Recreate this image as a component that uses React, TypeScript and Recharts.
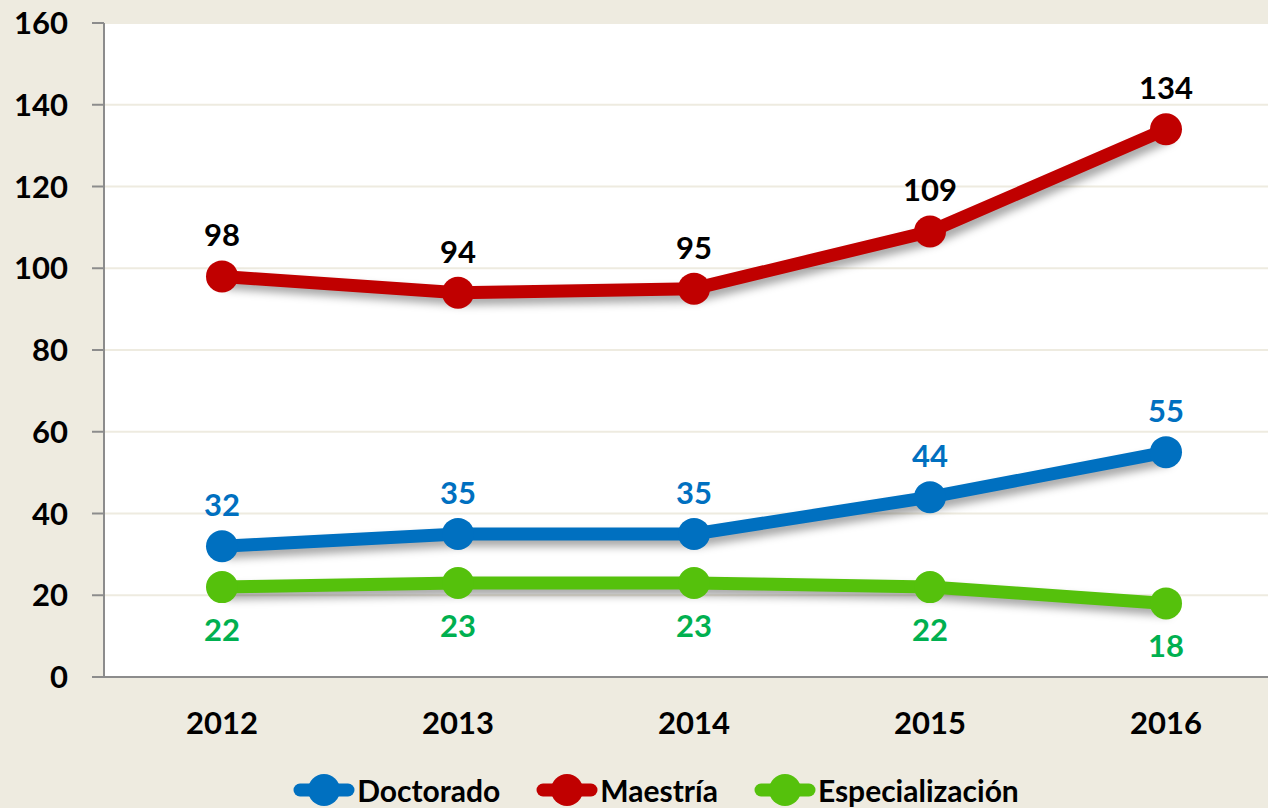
import { LineChart, Line, XAxis, YAxis, CartesianGrid, Legend, LabelList } from "recharts";

// values
const years = ["2012", "2013", "2014", "2015", "2016"];
const doctorado = [32, 35, 35, 44, 55];
const maestria = [98, 94, 95, 109, 134];
const especializacion = [22, 23, 23, 22, 18];
const yTicks = [0, 20, 40, 60, 80, 100, 120, 140, 160];

const data = years.map((year, i) => ({
    year,
    doctorado: doctorado[i],
    maestria: maestria[i],
    especializacion: especializacion[i],
}));

const BLUE = "#0070C0";
const RED = "#C00000";
const GREEN = "#55C10C";
const GREEN_LABEL = "#00B050";
const BG = "#EEEBE0";
const FONT = "Lato, 'Open Sans', sans-serif";

const legendItems = [
    { name: "Doctorado", color: BLUE },
    { name: "Maestría", color: RED },
    { name: "Especialización", color: GREEN },
];

function LegendContent() {
    return (
        <div
            style={{
                display: "flex",
                justifyContent: "center",
                alignItems: "center",
                height: 36,
                paddingLeft: 28,
                fontFamily: FONT,
                fontWeight: 700,
                fontSize: 30,
                color: "#000",
            }}
        >
            {legendItems.map((item, i) => (
                <div
                    key={item.name}
                    style={{ display: "flex", alignItems: "center", marginRight: i < legendItems.length - 1 ? 36 : 0 }}
                >
                    <svg width={62} height={34} style={{ marginRight: 2 }}>
                        <line x1={7} y1={17} x2={55} y2={17} stroke={item.color} strokeWidth={13} strokeLinecap="round" />
                        <circle cx={31} cy={17} r={16} fill={item.color} />
                    </svg>
                    <span>{item.name}</span>
                </div>
            ))}
        </div>
    );
}

export default function App() {
    const common = {
        type: "linear" as const,
        strokeWidth: 13,
        isAnimationActive: false,
        activeDot: false as const,
    };
    const labelStyle = { fontFamily: FONT, fontWeight: 700, fontSize: 31 };

    return (
        <div style={{ position: "fixed", left: 0, top: 0, width: 1268, height: 808, overflow: "hidden", background: BG }}>
            <style>{`.recharts-line { filter: drop-shadow(4px 6px 4px rgba(0,0,0,0.35)); }`}</style>
            <LineChart width={1284} height={808} data={data} margin={{ top: 23, right: 0, left: 0, bottom: 0 }}>
                <CartesianGrid vertical={false} stroke="#EEEBE0" strokeWidth={2} fill="#fff" />
                <XAxis
                    dataKey="year"
                    height={95}
                    padding={{ left: 118, right: 118 }}
                    tickLine={false}
                    tickSize={0}
                    tickMargin={35}
                    axisLine={{ stroke: "#8C8C8C", strokeWidth: 2 }}
                    tick={{ fill: "#000", fontFamily: FONT, fontWeight: 700, fontSize: 31 }}
                />
                <YAxis
                    width={104}
                    domain={[0, 160]}
                    ticks={yTicks}
                    interval={0}
                    tickSize={12}
                    tickMargin={24}
                    tickLine={{ stroke: "#8C8C8C", strokeWidth: 2 }}
                    axisLine={{ stroke: "#8C8C8C", strokeWidth: 2 }}
                    tick={{ fill: "#000", fontFamily: FONT, fontWeight: 700, fontSize: 31 }}
                />
                <Legend verticalAlign="bottom" height={36} content={<LegendContent />} />
                <Line {...common} dataKey="especializacion" name="Especialización" stroke={GREEN} dot={{ r: 16, fill: GREEN, stroke: GREEN, strokeWidth: 0 }}>
                    <LabelList dataKey="especializacion" position="bottom" offset={32} style={labelStyle} fill={GREEN_LABEL} />
                </Line>
                <Line {...common} dataKey="doctorado" name="Doctorado" stroke={BLUE} dot={{ r: 16, fill: BLUE, stroke: BLUE, strokeWidth: 0 }}>
                    <LabelList dataKey="doctorado" position="top" offset={30} style={labelStyle} fill={BLUE} />
                </Line>
                <Line {...common} dataKey="maestria" name="Maestría" stroke={RED} dot={{ r: 16, fill: RED, stroke: RED, strokeWidth: 0 }}>
                    <LabelList dataKey="maestria" position="top" offset={30} style={labelStyle} fill="#000" />
                </Line>
            </LineChart>
        </div>
    );
}
